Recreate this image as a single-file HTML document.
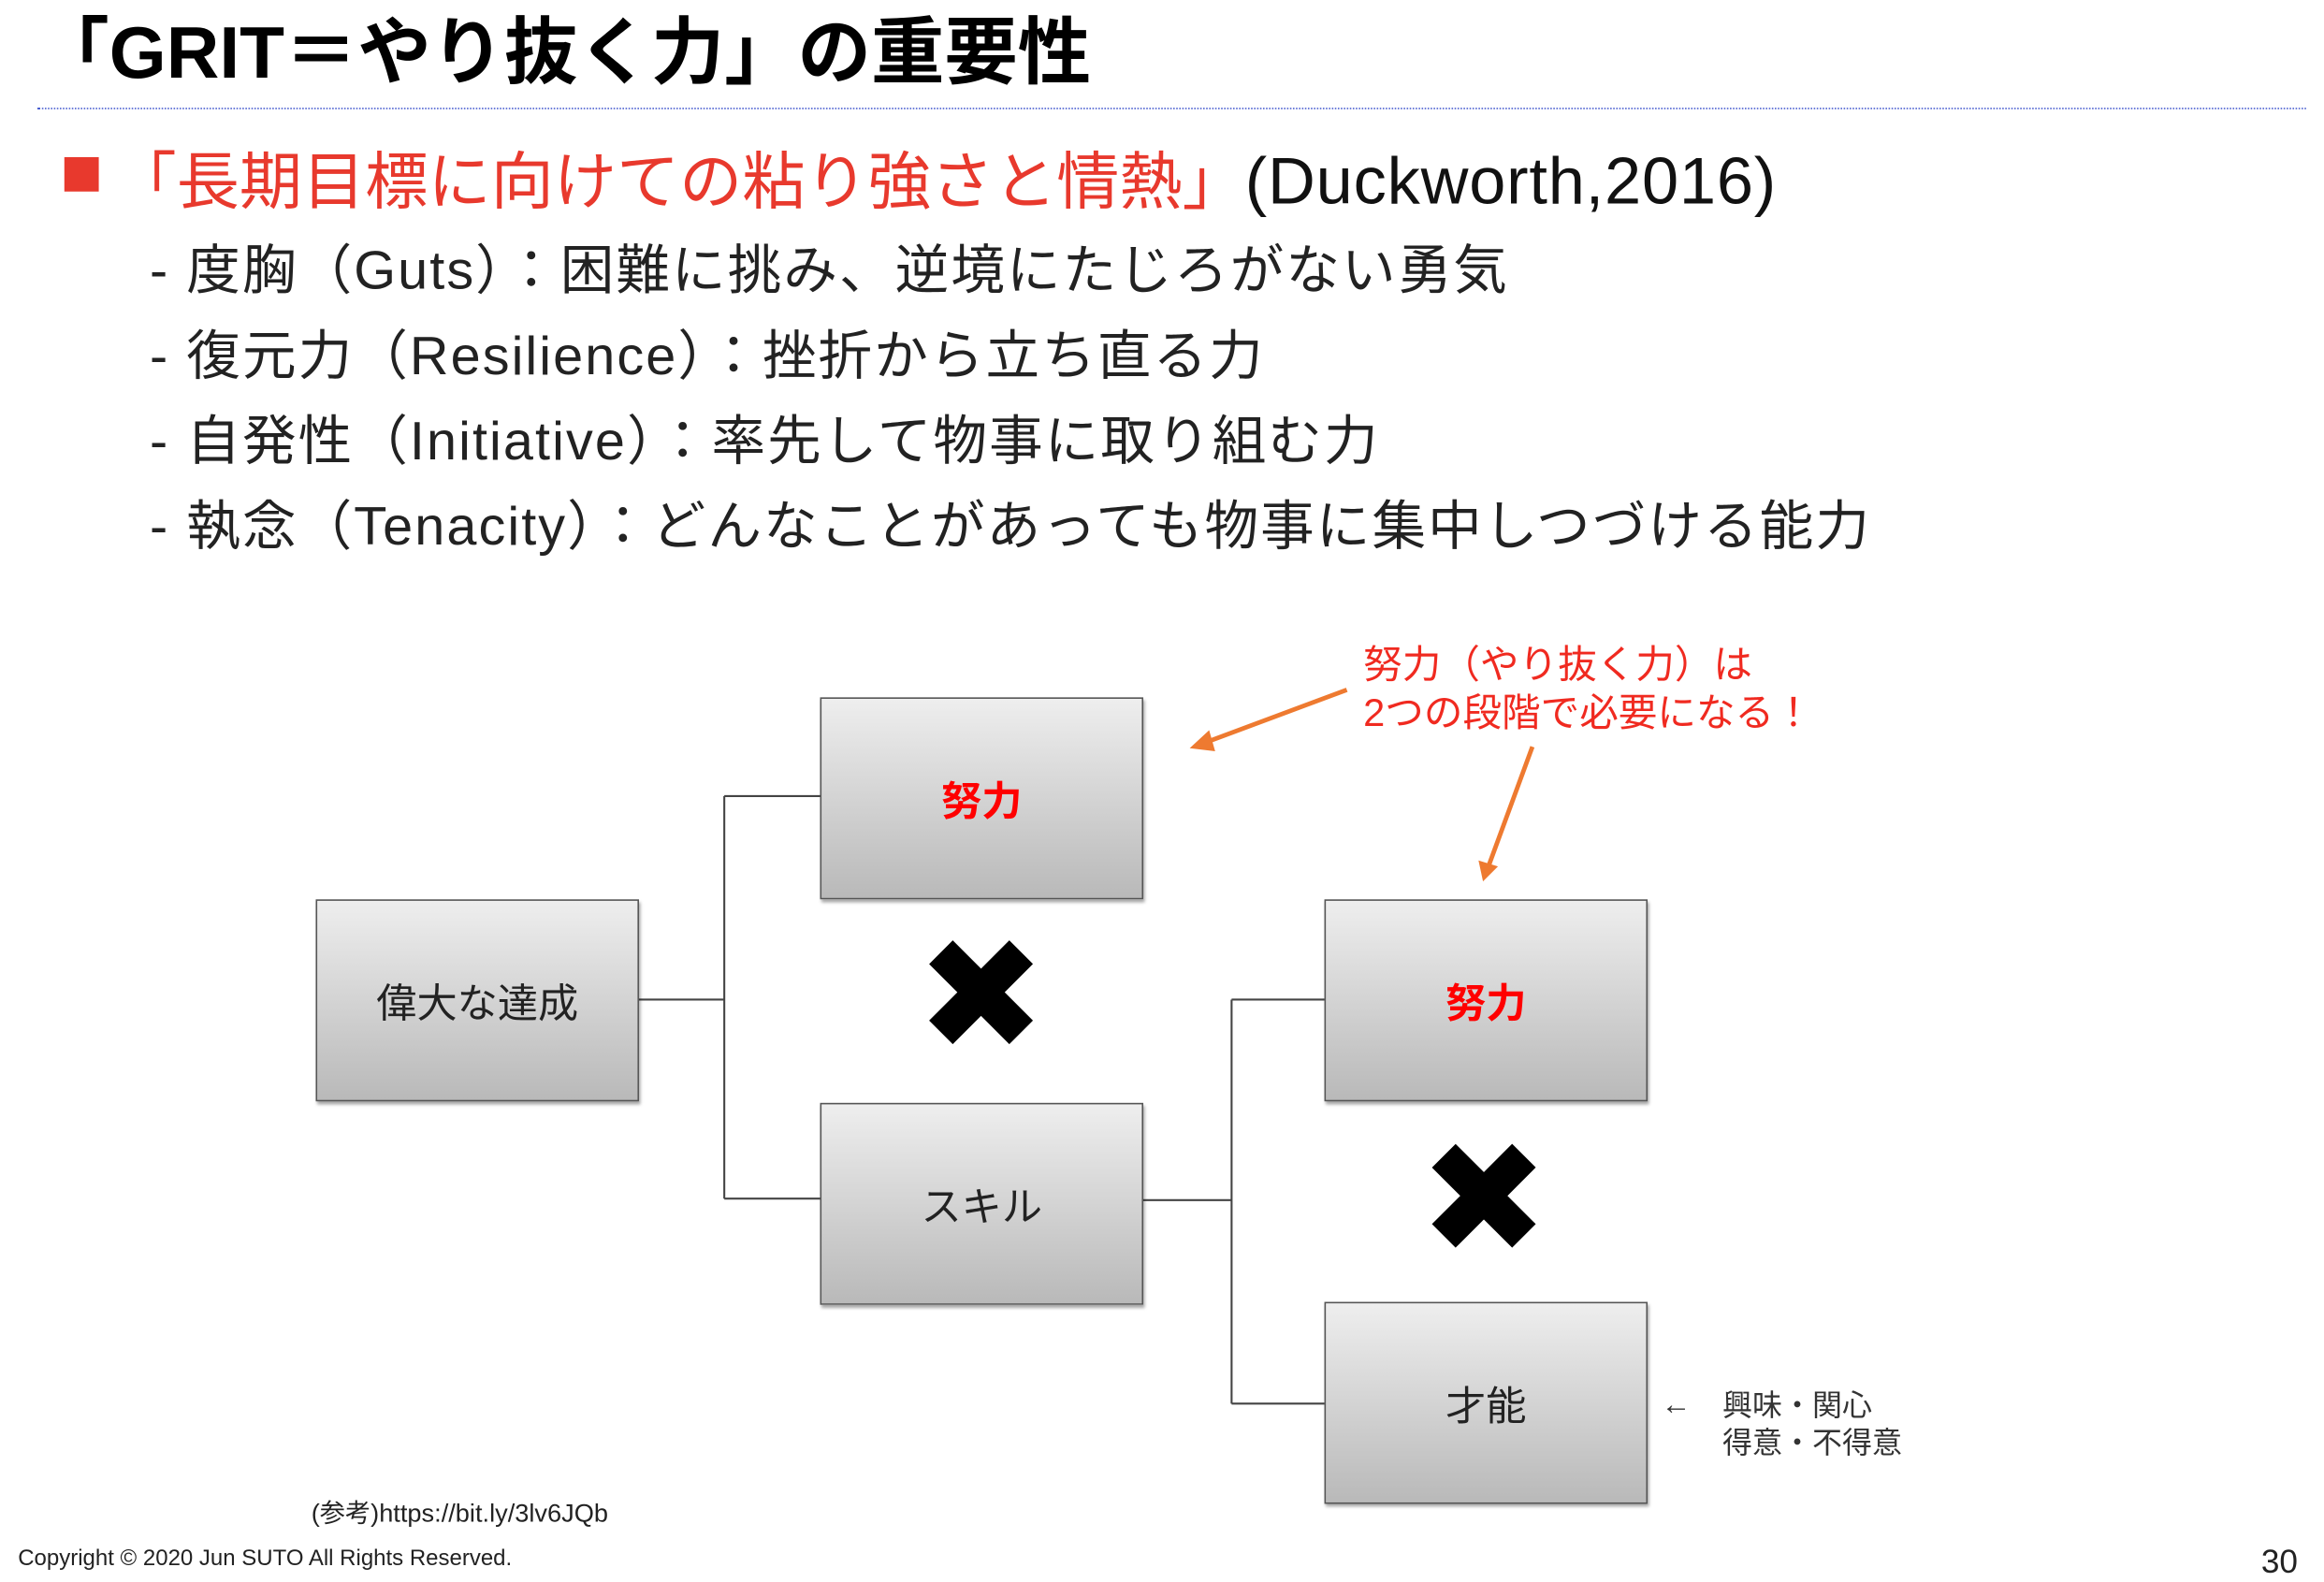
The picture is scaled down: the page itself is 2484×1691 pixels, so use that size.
<!DOCTYPE html>
<html><head><meta charset="utf-8"><style>
html,body{margin:0;padding:0;background:#fff;}
body{width:2484px;height:1678px;overflow:hidden;position:relative;}
#w{position:absolute;left:0;top:0;width:1553px;height:1049px;transform:scale(1.5995);transform-origin:0 0;font-family:"Liberation Sans","Noto Sans CJK JP",sans-serif;}
.a{position:absolute;white-space:nowrap;}
.box{position:absolute;width:214px;height:133px;border:1.5px solid #555;background:linear-gradient(#eeeeee,#b9b9b9);box-shadow:1px 2px 2px rgba(0,0,0,.35);display:flex;align-items:center;justify-content:center;font-size:27px;color:#222;}
.red{color:#f00;font-weight:bold;}
.sub{font-size:36px;color:#222;left:100px;letter-spacing:1.3px;}
</style></head><body><div id="w">
<div class="a" style="left:24px;top:-4px;font-size:49px;font-weight:bold;">「GRIT＝やり抜く力」の重要性</div>
<div class="a" style="left:25px;top:72px;width:1516px;border-top:1.5px dotted #4a5fd0;"></div>
<div class="a" style="left:43px;top:105px;width:23px;height:23px;background:#e8392d;"></div>
<div class="a" style="left:76px;top:88px;font-size:42px;color:#e8392d;">「長期目標に向けての粘り強さと情熱」<span style="color:#111;font-size:44px;letter-spacing:0.5px">(Duckworth,2016)</span></div>
<div class="a sub" style="top:152px;">- 度胸（Guts）：困難に挑み、逆境にたじろがない勇気</div>
<div class="a sub" style="top:209px;">- 復元力（Resilience）：挫折から立ち直る力</div>
<div class="a sub" style="top:266px;">- 自発性（Initiative）：率先して物事に取り組む力</div>
<div class="a sub" style="top:323px;">- 執念（Tenacity）：どんなことがあっても物事に集中しつづける能力</div>
<svg class="a" style="left:0;top:0" width="1553" height="1049">
<g stroke="#444" stroke-width="1.3" fill="none">
<path d="M427 668H484M484 532V801M484 532H548M484 801H548"/>
<path d="M763 802H823M823 668V938M823 668H885M823 938H885"/>
</g>
<g stroke="#ee7a30" stroke-width="3" fill="#ee7a30">
<line x1="900" y1="461" x2="806" y2="496"/>
<polygon points="795,500 808,488 812,502" stroke="none"/>
<line x1="1024" y1="499" x2="995" y2="578"/>
<polygon points="991,589 988,575 1001,579" stroke="none"/>
</g>
</svg>
<div class="box" style="left:548px;top:466px;"><span class="red">努力</span></div>
<div class="box" style="left:211px;top:601px;">偉大な達成</div>
<div class="box" style="left:548px;top:737px;">スキル</div>
<div class="box" style="left:885px;top:601px;"><span class="red">努力</span></div>
<div class="box" style="left:885px;top:870px;">才能</div>
<div class="a" style="left:612px;top:606px;font-size:104px;line-height:120px;">✖</div>
<div class="a" style="left:948px;top:742px;font-size:104px;line-height:120px;">✖</div>
<div class="a" style="left:911px;top:428px;font-size:26px;color:#f02a20;line-height:32px;">努力（やり抜く力）は<br>2つの段階で必要になる！</div>
<div class="a" style="left:1110px;top:928px;font-size:20px;color:#333;">←</div>
<div class="a" style="left:1151px;top:928px;font-size:20px;color:#333;line-height:25px;">興味・関心<br>得意・不得意</div>
<div class="a" style="left:208px;top:997px;font-size:17px;color:#222;">(参考)https://bit.ly/3lv6JQb</div>
<div class="a" style="left:12px;top:1033px;font-size:15px;color:#222;">Copyright © 2020 Jun SUTO All Rights Reserved.</div>
<div class="a" style="left:1511px;top:1031px;font-size:22px;color:#222;">30</div>
</div></body></html>
